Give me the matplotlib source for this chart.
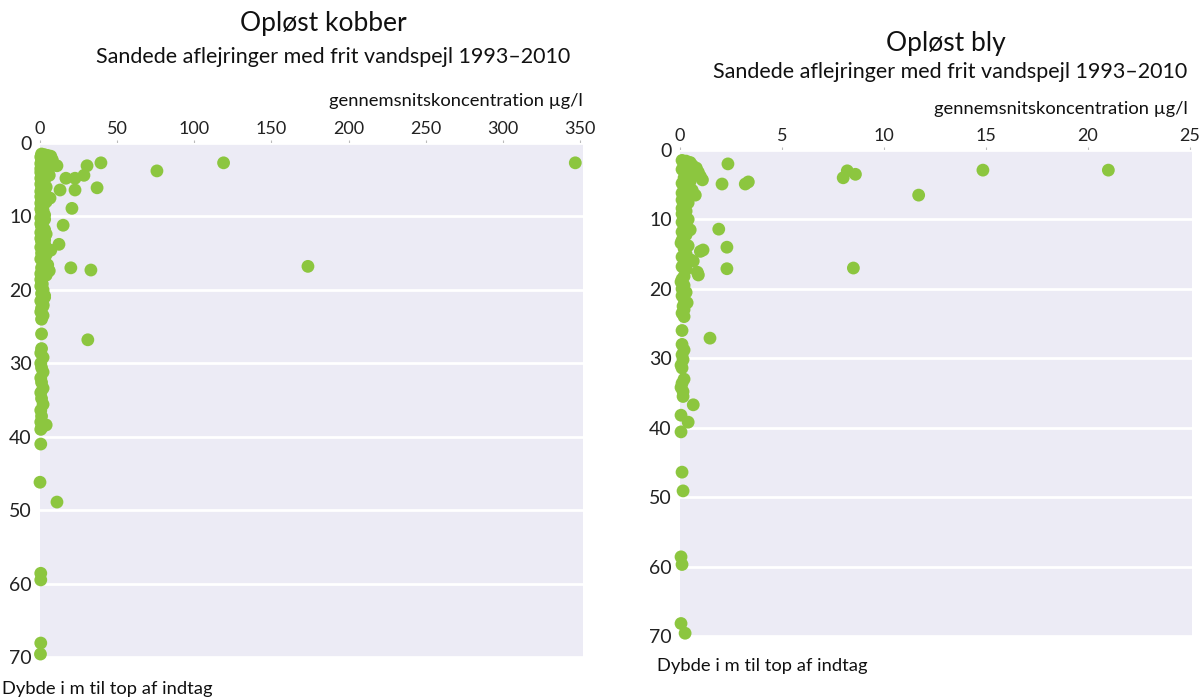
import matplotlib.pyplot as plt

plt.rcParams['font.family'] = ['Lato', 'DejaVu Sans']

# Opløst kobber (µg/l) vs depth (m)
cu_x = [1, 3, 5, 7, 0.5, 2, 4, 6, 8, 1, 3, 5, 0.5, 2, 9, 11, 4, 6, 0.5, 2, 4, 0.5, 3, 6, 1,
        0.5, 3, 1, 0.5, 2, 4, 1, 0.5, 2, 0.5, 6.5, 1, 0.5, 2, 0.5, 1, 3, 0.5, 2, 0.5, 1, 3,
        0.5, 2, 0.5, 1, 3, 0.5, 7, 1, 3, 0.5, 2, 5, 1, 6, 0.5, 2, 0.5, 1, 0.5, 2, 1, 3, 0.5,
        2, 1, 0.5, 2, 1,
        2, 4, 3, 5, 2, 3, 4, 2, 3, 1.5, 4, 3, 2, 4, 3, 2, 4, 1.5, 3, 2,
        1, 1, 0.5, 2, 0.5, 1, 2, 0.5, 1, 2, 0.5, 1, 2, 0.5, 1, 0.5, 1, 0.5,
        347, 119, 75.8, 39.5, 30.5, 28.5, 22.7, 16.8, 37, 13, 22.7, 20.7, 15, 12.3, 20, 33,
        173.7, 31, 4, 11, 0, 0.5, 0.5, 0.5, 0.5, 0.3]
cu_depth = [1.5, 1.6, 1.7, 1.8, 1.9, 2.0, 2.1, 2.2, 2.3, 2.4, 2.5, 2.6, 2.8, 3.0, 3.0, 3.1, 3.2,
            3.3, 3.5, 3.6, 3.8, 4.0, 4.2, 4.4, 4.5, 4.8, 5.0, 5.3, 5.6, 5.8, 6.0, 6.3, 6.6, 7.0,
            7.3, 7.5, 7.8, 8.2, 8.6, 9.0, 9.4, 9.8, 10.2, 10.6, 11.0, 11.4, 11.8, 12.2, 12.6,
            13.0, 13.4, 13.8, 14.2, 14.6, 15.0, 15.4, 15.8, 16.2, 16.6, 17.0, 17.4, 17.8, 18.2,
            18.6, 19.0, 19.5, 20.0, 20.5, 21.0, 21.5, 22.0, 22.5, 23.0, 23.5, 24.0,
            1.7, 2.4, 3.4, 4.0, 5.2, 6.6, 8.0, 9.2, 10.4, 11.2, 12.4, 13.2, 14.0, 15.2, 16.0,
            17.2, 18.0, 19.2, 20.8, 22.2,
            26.0, 28.0, 28.6, 29.2, 30.0, 30.6, 31.2, 32.0, 32.6, 33.4, 34.0, 34.8, 35.6, 36.4,
            37.2, 38.0, 38.8, 39.0,
            2.7, 2.7, 3.8, 2.7, 3.1, 4.4, 4.8, 4.8, 6.1, 6.4, 6.4, 8.9, 11.2, 13.8, 17.0, 17.3,
            16.8, 26.8, 38.4, 48.9, 46.2, 41.0, 58.6, 59.5, 68.1, 69.6]

# Opløst bly (µg/l) vs depth (m)
pb_x = [0.1, 0.3, 0.5, 0.2, 0.6, 0.4, 0.8, 0.1, 0.5, 0.9, 0.3, 0.7, 1.0, 0.2, 1.1, 0.5, 0.1,
        0.4, 0.2, 0.6, 0.1, 0.75, 0.3, 0.1, 0.4, 0.2, 0.1, 0.3, 0.1, 0.2, 0.4, 0.1, 0.3, 0.2,
        0.5, 0.1, 0.3, 0.2, 0.1, 0.05, 0.4, 0.2, 1.13, 1.0, 0.3, 0.1, 0.5, 0.65, 0.2, 0.1,
        0.3, 0.85, 0.9, 0.2, 0.1, 0.05, 0.2, 0.1, 0.3, 0.1, 0.2, 0.35, 0.15, 0.2, 0.1, 0.2,
        0.1, 0.1, 0.2, 0.1, 0.15, 0.05, 0.1, 0.2, 0.1, 0.05, 0.15, 0.15, 0.05, 0.4, 0.65,
        21.0, 14.85, 11.7, 8.6, 8.2, 8.0, 8.5, 2.35, 2.06, 3.2, 3.35, 1.9, 2.3, 2.3, 1.47,
        0.05, 0.1, 0.15, 0.05, 0.1, 0.05, 0.25]
pb_depth = [1.5, 1.6, 1.8, 2.0, 2.2, 2.4, 2.6, 2.8, 3.0, 3.2, 3.4, 3.6, 3.8, 4.0, 4.3, 4.5,
            4.8, 5.0, 5.4, 5.8, 6.2, 6.5, 6.8, 7.2, 7.6, 8.0, 8.4, 8.8, 9.2, 9.6, 10.0, 10.4,
            10.8, 11.2, 11.5, 11.8, 12.2, 12.6, 13.0, 13.4, 13.8, 14.2, 14.4, 14.6, 15.0, 15.4,
            15.8, 16.0, 16.4, 16.8, 17.2, 17.6, 18.0, 18.2, 18.6, 19.0, 19.5, 20.0, 20.5, 21.0,
            21.5, 22.0, 22.5, 23.0, 23.5, 24.0, 26.0, 28.0, 28.8, 29.5, 30.2, 31.0, 31.4, 33.0,
            33.6, 34.2, 34.8, 35.5, 38.2, 39.2, 36.7,
            2.9, 2.9, 6.5, 3.5, 3.0, 4.0, 17.0, 2.0, 4.9, 4.9, 4.6, 11.4, 14.0, 17.1, 27.1,
            40.6, 46.4, 49.1, 58.6, 59.7, 68.2, 69.6]

green = '#8cc63f'
bg = '#ecebf5'

fig = plt.figure(figsize=(12.03, 7.0), dpi=100)


def panel(rect, x, y, xmax, xticks):
    ax = fig.add_axes(rect)
    ax.set_facecolor(bg)
    ax.scatter(x, y, s=85, color=green, edgecolors='none', clip_on=False, zorder=3)
    ax.set_xlim(0, xmax)
    ax.set_ylim(70, 0)
    ax.set_xticks(xticks)
    ax.set_yticks(range(0, 80, 10))
    ax.xaxis.tick_top()
    ax.tick_params(axis='x', length=2, color='#bbbbbb', labelsize=13, labelcolor='#222222', pad=2)
    ax.tick_params(axis='y', length=0, labelsize=14, labelcolor='#222222', pad=6)
    ax.grid(axis='y', color='white', linewidth=2)
    ax.set_axisbelow(True)
    for s in ax.spines.values():
        s.set_visible(False)
    return ax


panel([40 / 1203, 1 - 657 / 700, 543 / 1203, 514 / 700], cu_x, cu_depth, 352,
      [0, 50, 100, 150, 200, 250, 300, 350])
panel([680 / 1203, 1 - 636 / 700, 512 / 1203, 486 / 700], pb_x, pb_depth, 25.1,
      [0, 5, 10, 15, 20, 25])

fig.text(323 / 1203, 1 - 24 / 700, 'Opløst kobber', ha='center', va='center', fontsize=19, color='#111111')
fig.text(333 / 1203, 1 - 57 / 700, 'Sandede aflejringer med frit vandspejl 1993–2010', ha='center',
         va='center', fontsize=15.5, color='#111111')
fig.text(583 / 1203, 1 - 101 / 700, 'gennemsnitskoncentration µg/l', ha='right', va='center',
         fontsize=13.2, color='#111111')
fig.text(2 / 1203, 1 - 689 / 700, 'Dybde i m til top af indtag', ha='left', va='center',
         fontsize=13.2, color='#111111')

fig.text(946 / 1203, 1 - 44 / 700, 'Opløst bly', ha='center', va='center', fontsize=19, color='#111111')
fig.text(1187 / 1203, 1 - 72 / 700, 'Sandede aflejringer med frit vandspejl 1993–2010', ha='right',
         va='center', fontsize=15.5, color='#111111')
fig.text(1188 / 1203, 1 - 109 / 700, 'gennemsnitskoncentration µg/l', ha='right', va='center',
         fontsize=13.2, color='#111111')
fig.text(657 / 1203, 1 - 666 / 700, 'Dybde i m til top af indtag', ha='left', va='center',
         fontsize=13.2, color='#111111')

fig.savefig('out.png', dpi=100)
